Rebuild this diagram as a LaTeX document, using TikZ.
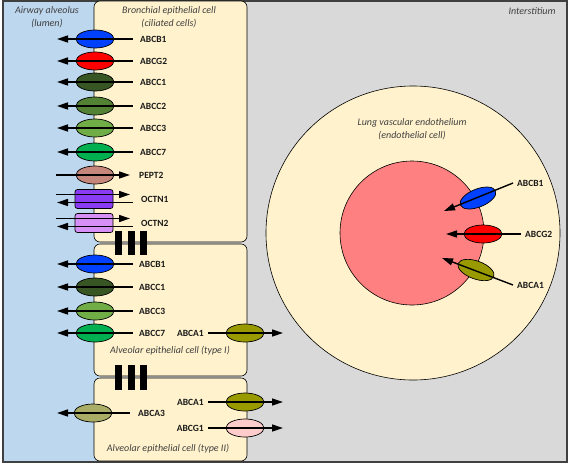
\documentclass[tikz,border=0pt]{standalone}
\usepackage{fontspec}
\setmainfont{Carlito}
\usetikzlibrary{arrows.meta, shapes.geometric}
\definecolor{lumen}{HTML}{BDD7EE}
\definecolor{interst}{HTML}{D9D9D9}
\definecolor{cellfill}{HTML}{FFF2CC}
\definecolor{vessel}{HTML}{FF8080}
\definecolor{framegray}{HTML}{404040}
\definecolor{notetext}{HTML}{404040}
\definecolor{labeltext}{HTML}{1A1A1A}
\definecolor{cB1}{HTML}{0040FF}
\definecolor{cG2}{HTML}{FF0000}
\definecolor{cC1}{HTML}{375623}
\definecolor{cC2}{HTML}{548235}
\definecolor{cC3}{HTML}{70AD47}
\definecolor{cC7}{HTML}{00B050}
\definecolor{cP2}{HTML}{C5877B}
\definecolor{cO1}{HTML}{8A3CF5}
\definecolor{cO2}{HTML}{D690F5}
\definecolor{cA1}{HTML}{999900}
\definecolor{cA3}{HTML}{A9AD66}
\definecolor{cG1}{HTML}{FFCCCC}

\begin{document}
\begin{tikzpicture}[x=1pt, y=-1pt,
    cellbox/.style={draw=black, line width=0.6pt, fill=cellfill, rounded corners=6pt},
    carrier/.style={ellipse, draw=black, line width=0.7pt, minimum width=38pt, minimum height=18pt, inner sep=0},
    porter/.style={rectangle, rounded corners=2.5pt, draw=black, line width=0.7pt, minimum width=38pt, minimum height=19pt, inner sep=0},
    flux/.style={line width=1.4pt, -{Triangle[length=11pt, width=7pt]}},
    tlabel/.style={font=\fontsize{9.5}{11}\selectfont\bfseries, text=labeltext, inner sep=0},
    note/.style={font=\fontsize{10}{13}\selectfont\itshape, text=notetext, align=center, inner sep=0}]
  \useasboundingbox (0,0) rectangle (569,466);
  % compartments
  \draw[fill=interst, draw=framegray, line width=1.2pt] (3,1) rectangle (567,462);
  \fill[lumen] (3.6,1.6) rectangle (100,461.4);
  \draw[cellbox] (94,1) rectangle (247,242);
  \draw[cellbox] (94,244) rectangle (247,376);
  \draw[cellbox] (94,378) rectangle (247,461);
  \draw[fill=cellfill, line width=0.6pt] (413,233) circle (147);
  \draw[fill=vessel, line width=0.6pt] (412,233) circle (72);
  \foreach \x in {115,128,140} {
    \fill (\x,231) rectangle (\x+7,255);
    \fill (\x,365) rectangle (\x+7,390);
  }
  \node[note] (lumen) at (47,17.5) {Airway alveolus\\(lumen)};
  \node[note] (bronch) at (169,17.5) {Bronchial epithelial cell\\(ciliated cells)};
  \node[note] (inter) at (532,11) {Interstitium};
  \node[note] (endo) at (412,129.5) {Lung vascular endothelium\\(endothelial cell)};
  \node[note] (typeI) at (170,351) {Alveolar epithelial cell (type I)};
  \node[note] (typeII) at (168,449) {Alveolar epithelial cell (type II)};
  % bronchial epithelium
  \foreach \t/\y/\c in {ABCB1/39/cB1, ABCG2/61/cG2, ABCC1/82/cC1, ABCC2/106/cC2, ABCC3/128/cC3, ABCC7/152/cC7} {
    \node[carrier, fill=\c] (br\t) at (95,\y) {};
    \node[tlabel, anchor=west] (brl\t) at (140,\y) {\t};
    \coordinate (bro\t) at (57,\y);
    \draw[flux] ([xshift=-7pt]brl\t.west) -- (bro\t);
  }
  \node[carrier, fill=cP2] (brPEPT2) at (95,175) {};
  \node[tlabel, anchor=west] (brlPEPT2) at (139,175) {PEPT2};
  \coordinate (briPEPT2) at (56,175);
  \draw[flux] (briPEPT2) -- ([xshift=-9pt]brlPEPT2.west);
  \foreach \t/\y/\c in {OCTN1/199/cO1, OCTN2/223/cO2} {
    \node[porter, fill=\c] (br\t) at (94,\y) {};
    \node[tlabel, anchor=west] (brl\t) at (141,\y) {\t};
    \coordinate (bri\t) at (56,\y-4.5);
    \coordinate (bro\t) at (57,\y+3.5);
    \draw[flux] (bri\t) -- ([xshift=-11pt,yshift=4.5pt]brl\t.west);
    \draw[flux] ([xshift=-8pt,yshift=-3.5pt]brl\t.west) -- (bro\t);
  }
  % type I
  \foreach \t/\y/\c in {ABCB1/264/cB1, ABCC1/287/cC1, ABCC3/311/cC3, ABCC7/333/cC7} {
    \node[carrier, fill=\c] (ta\t) at (95,\y) {};
    \node[tlabel, anchor=west] (tal\t) at (139,\y) {\t};
    \coordinate (tao\t) at (57,\y);
    \draw[flux] ([xshift=-6pt]tal\t.west) -- (tao\t);
  }
  \node[carrier, fill=cA1] (taABCA1) at (245,333) {};
  \node[tlabel, anchor=east] (talABCA1) at (204,333) {ABCA1};
  \coordinate (taoABCA1) at (283,333);
  \draw[flux] ([xshift=4pt]talABCA1.east) -- (taoABCA1);
  % type II
  \node[carrier, fill=cA3] (tbABCA3) at (93,413) {};
  \node[tlabel, anchor=west] (tblABCA3) at (138,413) {ABCA3};
  \coordinate (tboABCA3) at (57,413);
  \draw[flux] ([xshift=-8pt]tblABCA3.west) -- (tboABCA3);
  \foreach \t/\y/\c in {ABCA1/402/cA1, ABCG1/428/cG1} {
    \node[carrier, fill=\c] (tb\t) at (245,\y) {};
    \node[tlabel, anchor=east] (tbl\t) at (204,\y) {\t};
    \coordinate (tbo\t) at (283,\y);
    \draw[flux] ([xshift=4pt]tbl\t.east) -- (tbo\t);
  }
  % endothelium
  \node[carrier, fill=cB1, rotate=22] (enABCB1) at (478,198) {};
  \node[tlabel, anchor=west] (enlABCB1) at (517,183) {ABCB1};
  \coordinate (eniABCB1) at (444,211);
  \draw[flux] ([xshift=-4pt]enlABCB1.west) -- (eniABCB1);
  \node[carrier, fill=cG2] (enABCG2) at (483,234) {};
  \node[tlabel, anchor=west] (enlABCG2) at (525,234) {ABCG2};
  \coordinate (eniABCG2) at (446,234);
  \draw[flux] ([xshift=-4pt]enlABCG2.west) -- (eniABCG2);
  \node[carrier, fill=cA1, rotate=-20] (enABCA1) at (476,270) {};
  \node[tlabel, anchor=west] (enlABCA1) at (517,285) {ABCA1};
  \coordinate (eniABCA1) at (442,258);
  \draw[flux] ([xshift=-4pt]enlABCA1.west) -- (eniABCA1);
\end{tikzpicture}
\end{document}
